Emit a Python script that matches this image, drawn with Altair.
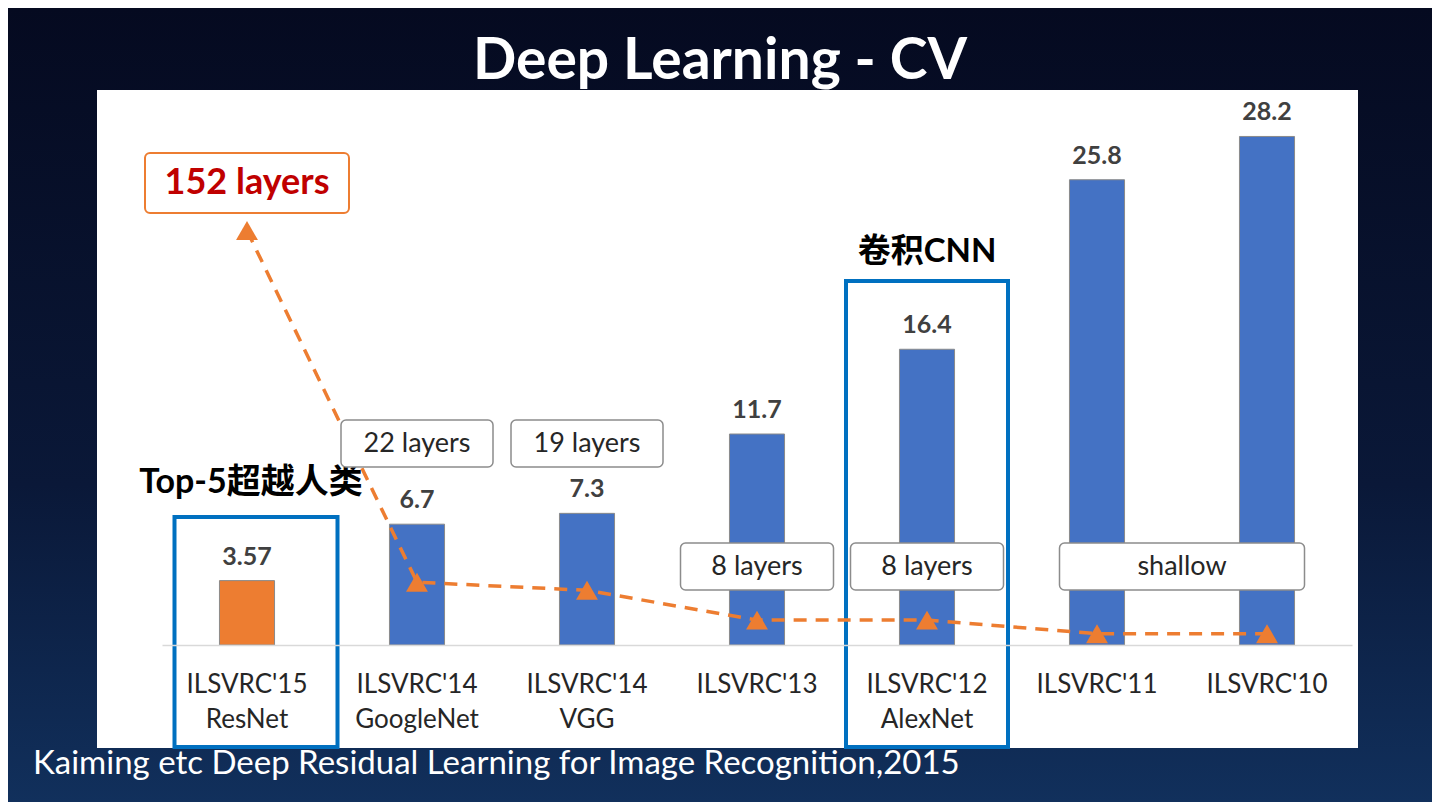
import altair as alt
import pandas as pd

# ---------------- data ----------------
categories = ["ILSVRC'15|ResNet", "ILSVRC'14|GoogleNet", "ILSVRC'14|VGG",
              "ILSVRC'13", "ILSVRC'12|AlexNet", "ILSVRC'11", "ILSVRC'10"]
top5_error = [3.57, 6.7, 7.3, 11.7, 16.4, 25.8, 28.2]
depth_layers = [152, 22, 19, 8, 8, 3, 3]

big_label = ["152 layers"]
big_anchor = [categories[0]]
row1_labels = ["22 layers", "19 layers"]
row1_anchor = [categories[1], categories[2]]
row2_labels = ["8 layers", "8 layers"]
row2_anchor = [categories[3], categories[4]]
shallow_label = ["shallow"]
shallow_anchor = [categories[5]]

title_text = "Deep Learning - CV"
footer_text = "Kaiming etc Deep Residual Learning for Image Recognition,2015"
note_resnet = "Top-5超越人类"
note_alexnet = "卷积CNN"

df = pd.DataFrame({"cat": categories, "err": top5_error, "layers": depth_layers})

ORANGE = "#ED7D31"
BLUE = "#4472C4"
FONT = "Lato, 'Noto Sans CJK SC', sans-serif"

x_axis = alt.Axis(
    title=None, ticks=False, domain=True, domainColor="#D9D9D9", domainWidth=1.5,
    labelFont=FONT, labelFontSize=26, labelColor="#262626", labelAngle=0,
    labelExpr="split(datum.label, '|')", labelPadding=26, labelLineHeight=35,
    grid=False, zindex=1,
)
X = alt.X("cat:N", sort=categories,
          scale=alt.Scale(paddingInner=0.676, paddingOuter=0.338), axis=x_axis)
Y_ERR = alt.Y("err:Q", scale=alt.Scale(domain=[0, 30], nice=False), axis=None)
Y_LAY = alt.Y("layers:Q", scale=alt.Scale(domain=[-1.2, 198.8], nice=False), axis=None)

dummy = pd.DataFrame({"k": [0]})

# background gradient (whole canvas)
bg = alt.Chart(dummy).mark_rect(
    color=alt.Gradient(gradient="linear", x1=0, y1=0, x2=0, y2=1,
                       stops=[alt.GradientStop(color="#050a20", offset=0),
                              alt.GradientStop(color="#0a1838", offset=0.6),
                              alt.GradientStop(color="#11305c", offset=1)])
).encode(x=alt.value(-154), x2=alt.value(1270), y=alt.value(-96), y2=alt.value(698))

panel = alt.Chart(dummy).mark_rect(color="white").encode(
    x=alt.value(-65), x2=alt.value(1196), y=alt.value(-14), y2=alt.value(644))

title = alt.Chart(dummy).mark_text(
    text=title_text, font=FONT, fontSize=57, fontWeight="bold", color="white",
    align="center", baseline="middle"
).encode(x=alt.value(558), y=alt.value(-42))

footer = alt.Chart(dummy).mark_text(
    text=footer_text, font=FONT, fontSize=33, color="white",
    align="left", baseline="middle"
).encode(x=alt.value(-129), y=alt.value(660))

base = alt.Chart(df)

bars = base.mark_bar(stroke="#8a8a8a", strokeWidth=1).encode(
    x=X, y=Y_ERR,
    color=alt.condition(alt.datum.cat == categories[0], alt.value(ORANGE), alt.value(BLUE)),
)
values = base.mark_text(font=FONT, fontSize=25, fontWeight="bold", color="#404040",
                        baseline="alphabetic", dy=-16).encode(
    x=X, y=Y_ERR, text=alt.Text("err:Q"))

line = base.mark_line(color=ORANGE, strokeDash=[13, 9], strokeWidth=3.5).encode(x=X, y=Y_LAY)
tris = base.mark_point(shape="triangle-up", filled=True, size=480, color=ORANGE,
                       opacity=1).encode(x=X, y=Y_LAY)

# highlight frames
hl_res = alt.Chart(pd.DataFrame({"cat": [categories[0]]})).mark_bar(
    filled=False, stroke="#0070C0", strokeWidth=4, width=163, xOffset=9
).encode(x=X, y=alt.value(413), y2=alt.value(643))
hl_alex = alt.Chart(pd.DataFrame({"cat": [categories[4]]})).mark_bar(
    filled=False, stroke="#0070C0", strokeWidth=4, width=162
).encode(x=X, y=alt.value(177), y2=alt.value(643))

note1 = alt.Chart(pd.DataFrame({"cat": [categories[0]], "t": [note_resnet]})).mark_text(
    font=FONT, fontSize=34, fontWeight="bold", color="black", baseline="middle", dx=4
).encode(x=X, y=alt.value(379), text="t:N")
note2 = alt.Chart(pd.DataFrame({"cat": [categories[4]], "t": [note_alexnet]})).mark_text(
    font=FONT, fontSize=33, fontWeight="bold", color="black", baseline="middle"
).encode(x=X, y=alt.value(148), text="t:N")

# layer boxes
def box_layers(labels, anchors, y0, y1, width, xoff=0, stroke="#8c8c8c", sw=1.5,
               fsize=27, fcolor="#262626", fweight="normal"):
    d = pd.DataFrame({"cat": anchors, "t": labels})
    b = alt.Chart(d).mark_bar(color="white", stroke=stroke, strokeWidth=sw, width=width,
                              cornerRadius=5, xOffset=xoff).encode(
        x=X, y=alt.value(y0), y2=alt.value(y1))
    t = alt.Chart(d).mark_text(font=FONT, fontSize=fsize, color=fcolor, fontWeight=fweight,
                               baseline="middle", dx=xoff).encode(
        x=X, y=alt.value((y0 + y1) / 2), text="t:N")
    return [b, t]

boxes = []
boxes += box_layers(big_label, big_anchor, 49, 109, 204, stroke=ORANGE, sw=2,
                    fsize=36, fcolor="#C00000", fweight="bold")
boxes += box_layers(row1_labels, row1_anchor, 316, 363, 152)
boxes += box_layers(row2_labels, row2_anchor, 439, 486, 153)
boxes += box_layers(shallow_label, shallow_anchor, 439, 486, 245, xoff=85)

chart = alt.layer(
    bg, panel, title, footer, bars, values, hl_res, hl_alex, note1, note2,
    line, *boxes, tris
).resolve_scale(y="independent").properties(
    width=1190, height=541,
    padding={"left": 154, "right": 80, "top": 96, "bottom": 157},
    autosize=alt.AutoSizeParams(type="none"),
    background="#0a1436",
).configure_view(stroke=None)

chart.save("out.html", embed_options={"renderer": "svg", "actions": False})
